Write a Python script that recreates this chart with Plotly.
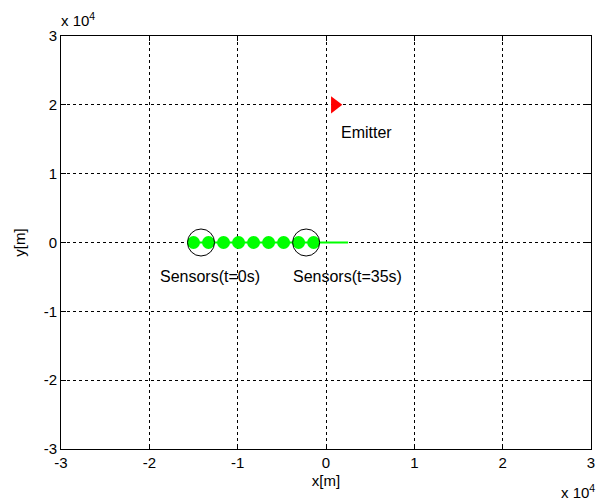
import plotly.graph_objects as go

# Sensor positions sampled along the track (m)
sensor_x = [-15000, -13300, -11600, -9900, -8200, -6500, -4800, -3100, -1400]
sensor_y = [0, 0, 0, 0, 0, 0, 0, 0, 0]

# Sensor track line (m)
track_x = [-15000, 2500]
track_y = [0, 0]

# Array centres at t=0s and t=35s (m)
ring_x = [-14150, -2250]
ring_y = [0, 0]

# Emitter location (m)
emitter_x = [1000]
emitter_y = [20000]

ticks = [-30000, -20000, -10000, 0, 10000, 20000, 30000]
tick_text = ["-3", "-2", "-1", "0", "1", "2", "3"]

labels = [
    dict(x=1500, y=16000, text="Emitter"),
    dict(x=-19000, y=-4900, text="Sensors(t=0s)"),
    dict(x=-4000, y=-4900, text="Sensors(t=35s)"),
]

FONT = "Liberation Sans, Arial, sans-serif"

fig = go.Figure()
fig.add_trace(go.Scatter(x=track_x, y=track_y, mode="lines",
                         line=dict(color="#00ff00", width=2), hoverinfo="skip"))
fig.add_trace(go.Scatter(x=sensor_x, y=sensor_y, mode="markers",
                         marker=dict(color="#00ff00", size=13, line=dict(width=0))))
fig.add_trace(go.Scatter(x=ring_x, y=ring_y, mode="markers",
                         marker=dict(symbol="circle-open", color="black", size=27,
                                     line=dict(width=1, color="black"))))
fig.add_trace(go.Scatter(x=emitter_x, y=emitter_y, mode="markers",
                         marker=dict(symbol="triangle-right", color="#ff0000", size=15,
                                     line=dict(width=0))))

for lb in labels:
    fig.add_annotation(x=lb["x"], y=lb["y"], text=lb["text"], showarrow=False,
                       xanchor="left", yanchor="middle",
                       font=dict(family=FONT, size=16, color="black"))

# Axis multiplier labels
fig.add_annotation(xref="paper", yref="paper", x=0, y=1, xshift=-2, yshift=5,
                   text="x 10<sup>4</sup>", showarrow=False, xanchor="left", yanchor="bottom",
                   font=dict(family=FONT, size=15, color="black"))
fig.add_annotation(xref="paper", yref="paper", x=1, y=0, xshift=6, yshift=-31,
                   text="x 10<sup>4</sup>", showarrow=False, xanchor="right", yanchor="top",
                   font=dict(family=FONT, size=15, color="black"))

axis_common = dict(
    range=[-30000, 30000], tickvals=ticks, ticktext=tick_text,
    showgrid=True, gridcolor="black", gridwidth=1, griddash="3px,3px",
    zeroline=False, showline=True, linecolor="black", linewidth=1, mirror="ticks",
    ticks="inside", ticklen=5, tickcolor="black",
    tickfont=dict(family=FONT, size=15, color="black"),
)

fig.update_layout(
    width=605, height=502,
    margin=dict(l=61, r=10, t=36, b=53),
    paper_bgcolor="white", plot_bgcolor="white",
    showlegend=False,
    xaxis=dict(**axis_common, title=dict(text="x[m]", standoff=5,
                                         font=dict(family=FONT, size=15, color="black"))),
    yaxis=dict(**axis_common, title=dict(text="y[m]", standoff=14,
                                         font=dict(family=FONT, size=15, color="black"))),
)

fig.write_html("out.html")
